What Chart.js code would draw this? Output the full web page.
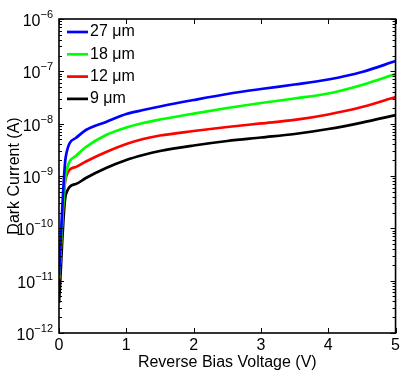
<!DOCTYPE html>
<html>
<head>
<meta charset="utf-8">
<script src="https://cdn.jsdelivr.net/npm/chart.js@4/dist/chart.umd.min.js"></script>
<style>
  html, body { margin: 0; padding: 0; background: #fff; }
  #wrap { width: 403px; height: 374px; }
</style>
</head>
<body>
<div id="wrap"><canvas id="darkChart"></canvas></div>
<script>
// reverse bias voltage (V)
let voltage = [0, 0.1, 0.25, 0.4, 0.7, 1, 1.25, 1.5, 2, 2.5, 3, 3.5, 4, 4.5, 5];

// dark current (A)
let current27 = [1.28e-11, 2.31e-9, 5.32e-9, 7.57e-9, 1.08e-8, 1.53e-8, 1.82e-8, 2.13e-8, 2.83e-8, 3.69e-8, 4.59e-8, 5.6e-8, 6.98e-8, 9.7e-8, 1.57e-7];
let current18 = [1.12e-11, 1.04e-9, 2.41e-9, 3.58e-9, 6.07e-9, 8.45e-9, 1.03e-8, 1.2e-8, 1.56e-8, 1.99e-8, 2.48e-8, 3.03e-8, 3.77e-8, 5.48e-8, 8.89e-8];
let current12 = [1.03e-11, 9.16e-10, 1.49e-9, 1.89e-9, 2.87e-9, 4.08e-9, 5.09e-9, 5.94e-9, 7.24e-9, 8.63e-9, 1.01e-8, 1.18e-8, 1.5e-8, 2.08e-8, 3.23e-8];
let current9 = [3.74e-12, 4.34e-10, 7.03e-10, 9.16e-10, 1.42e-9, 2.02e-9, 2.52e-9, 3.0e-9, 3.83e-9, 4.67e-9, 5.44e-9, 6.34e-9, 7.9e-9, 1.05e-8, 1.46e-8];

let seriesLabels = ['27 \u03bcm', '18 \u03bcm', '12 \u03bcm', '9 \u03bcm'];
let seriesColors = ['#0000ff', '#00ff00', '#ff0000', '#000000'];
let xTicks = [0, 1, 2, 3, 4, 5];
let yDecades = [-12, -11, -10, -9, -8, -7, -6];

const FONT = '"Liberation Sans", Arial, Helvetica, sans-serif';

function toPoints(ys) {
    return voltage.map((v, i) => ({x: v, y: ys[i]}));
}

let allSeries = [current27, current18, current12, current9];
let datasets = allSeries.map((ys, i) => ({
    label: seriesLabels[i],
    data: toPoints(ys),
    borderColor: seriesColors[i],
    backgroundColor: seriesColors[i],
    borderWidth: 2.7,
    pointRadius: 0,
    cubicInterpolationMode: 'monotone',
    fill: false,
    order: i
}));

// box, inward ticks, y labels with exponents, legend
let matlabAxes = {
    id: 'matlabAxes',
    afterDraw(chart) {
        let ctx = chart.ctx;
        let a = chart.chartArea;
        let xs = chart.scales.x, ys = chart.scales.y;
        ctx.save();
        ctx.strokeStyle = '#000';
        ctx.lineWidth = 1;
        // ticks
        ctx.beginPath();
        xTicks.forEach(t => {
            let px = Math.round(xs.getPixelForValue(t)) + 0.5;
            ctx.moveTo(px, a.bottom); ctx.lineTo(px, a.bottom - 5);
            ctx.moveTo(px, a.top); ctx.lineTo(px, a.top + 5);
        });
        yDecades.forEach((d, k) => {
            let py = Math.round(ys.getPixelForValue(Math.pow(10, d))) + 0.5;
            ctx.moveTo(a.left, py); ctx.lineTo(a.left + 5, py);
            ctx.moveTo(a.right, py); ctx.lineTo(a.right - 5, py);
            if (k < yDecades.length - 1) {
                for (let m = 2; m <= 9; m++) {
                    let q = Math.round(ys.getPixelForValue(m * Math.pow(10, d))) + 0.5;
                    ctx.moveTo(a.left, q); ctx.lineTo(a.left + 3, q);
                    ctx.moveTo(a.right, q); ctx.lineTo(a.right - 3, q);
                }
            }
        });
        ctx.stroke();
        // box
        ctx.lineWidth = 1.6;
        ctx.strokeRect(a.left, a.top, a.right - a.left, a.bottom - a.top);

        // y labels 10^n
        ctx.fillStyle = '#000';
        yDecades.forEach(d => {
            let py = ys.getPixelForValue(Math.pow(10, d));
            let exp = '\u2212' + Math.abs(d);
            ctx.font = '11px ' + FONT;
            let ew = ctx.measureText(exp).width;
            ctx.textAlign = 'left';
            ctx.textBaseline = 'alphabetic';
            let ex = a.left - 6 - ew;
            ctx.fillText(exp, ex, py - 1);
            ctx.font = '16px ' + FONT;
            ctx.textAlign = 'right';
            ctx.fillText('10', ex, py + 7);
        });

        // legend
        ctx.font = '16px ' + FONT;
        ctx.textAlign = 'left';
        ctx.textBaseline = 'middle';
        seriesLabels.forEach((lab, i) => {
            let ly = a.top + 13 + i * 22.3;
            ctx.strokeStyle = seriesColors[i];
            ctx.lineWidth = 2.7;
            ctx.beginPath();
            ctx.moveTo(a.left + 8, ly);
            ctx.lineTo(a.left + 29, ly);
            ctx.stroke();
            ctx.fillText(lab, a.left + 31, ly);
        });
        ctx.restore();
    }
};

let darkChart = new Chart(document.getElementById('darkChart'), {
    type: 'line',
    data: {datasets: datasets},
    options: {
        responsive: true,
        maintainAspectRatio: false,
        animation: false,
        layout: {padding: {top: 19, right: 3, left: 0, bottom: 0}},
        scales: {
            x: {
                type: 'linear',
                min: 0,
                max: 5,
                grid: {display: false, drawTicks: false},
                border: {display: false},
                ticks: {
                    stepSize: 1,
                    padding: 3,
                    color: '#000',
                    font: {family: FONT, size: 16},
                    maxRotation: 0
                },
                title: {
                    display: true,
                    text: 'Reverse Bias Voltage (V)',
                    color: '#000',
                    font: {family: FONT, size: 16},
                    padding: {top: 0, bottom: 2}
                },
                afterFit: s => { s.height = 41; }
            },
            y: {
                type: 'logarithmic',
                min: 1e-12,
                max: 1e-6,
                grid: {display: false, drawTicks: false},
                border: {display: false},
                ticks: {display: false},
                title: {
                    display: true,
                    text: 'Dark Current (A)',
                    color: '#000',
                    font: {family: FONT, size: 16},
                    padding: {top: 5, bottom: 0}
                },
                afterFit: s => { s.width = 59; }
            }
        },
        plugins: {
            legend: {display: false},
            tooltip: {enabled: false}
        }
    },
    plugins: [matlabAxes]
});
</script>
</body>
</html>
